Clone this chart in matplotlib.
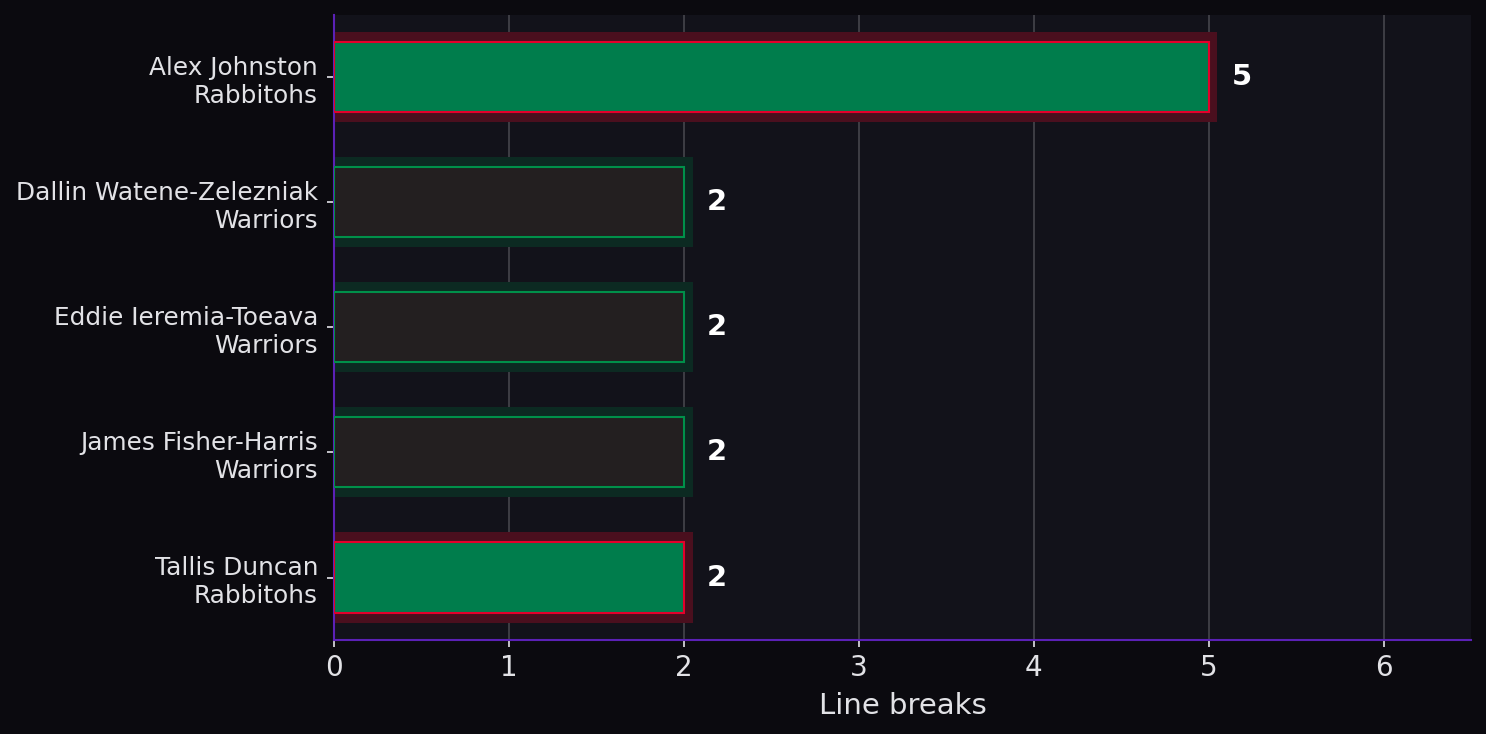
import matplotlib.pyplot as plt

# data
players = ["Alex Johnston", "Dallin Watene-Zelezniak", "Eddie Ieremia-Toeava",
           "James Fisher-Harris", "Tallis Duncan"]
teams = ["Rabbitohs", "Warriors", "Warriors", "Warriors", "Rabbitohs"]
line_breaks = [5, 2, 2, 2, 2]

# team styles: (fill, edge, glow)
team_style = {
    "Rabbitohs": ("#007d4c", "#e4002b", "#4a0f1e"),
    "Warriors": ("#231f20", "#00904a", "#0c2a22"),
}

bg = "#0b0a0f"
ax_bg = "#12121a"
txt = "#e2e2e6"
spine_col = "#5b21b6"

fig = plt.figure(figsize=(14.86, 7.34), dpi=100, facecolor=bg)
ax = fig.add_axes([0.2248, 0.128, 0.7652, 0.852])
ax.set_facecolor(ax_bg)

ypos = list(range(len(players)))
labels = [f"{p}\n{t}" for p, t in zip(players, teams)]

for y, val, team in zip(ypos, line_breaks, teams):
    fill, edge, glow = team_style[team]
    ax.barh(y, val + 0.05, height=0.72, color=glow, zorder=2)
    ax.barh(y, val, height=0.56, color=fill, edgecolor=edge, linewidth=1.5, zorder=3)
    ax.text(val + 0.13, y, str(val), color="white", fontsize=21,
            fontweight="bold", va="center", ha="left", zorder=4)

ax.set_yticks(ypos)
ax.set_yticklabels(labels, fontsize=17.8, color=txt)
ax.set_ylim(len(players) - 0.5, -0.5)
ax.set_xlim(0, 6.5)
ax.set_xticks(range(0, 7))
ax.tick_params(axis="x", labelsize=20, colors=txt, length=5, width=1.2, pad=5)
ax.tick_params(axis="y", colors=txt, length=5, width=1.2, pad=6.5)
ax.set_xlabel("Line breaks", fontsize=21, color=txt, labelpad=7)

ax.grid(axis="x", color="#4a4a50", linewidth=1.1, zorder=1)
ax.set_axisbelow(True)

for side in ["top", "right"]:
    ax.spines[side].set_visible(False)
for side in ["left", "bottom"]:
    ax.spines[side].set_color(spine_col)
    ax.spines[side].set_linewidth(1.5)

plt.savefig("out.png", facecolor=bg)
